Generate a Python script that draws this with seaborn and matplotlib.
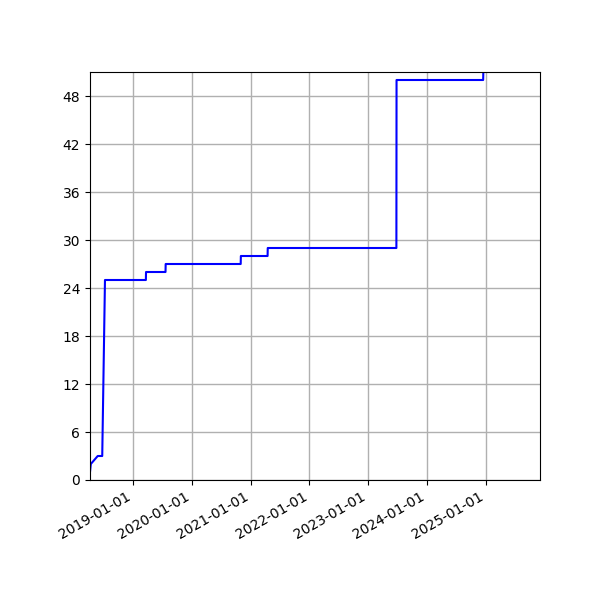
import pandas as pd
import matplotlib
matplotlib.use("Agg")
import matplotlib.pyplot as plt
import matplotlib.dates as mdates
import seaborn as sns

sample_dates = ["2018-04-09", "2018-04-14", "2018-05-27", "2018-06-24",
                "2018-07-11", "2019-03-22", "2019-03-23", "2019-07-22",
                "2019-07-23", "2020-10-31", "2020-11-01", "2021-04-16",
                "2021-04-17", "2023-06-25", "2023-06-26", "2024-12-15",
                "2024-12-16"]
sample_counts = [1, 2, 3, 3, 25, 25, 26, 26, 27, 27, 28, 28, 29, 29, 50, 50, 51]
x_start = "2018-04-09"
x_end = "2025-12-03"
y_ticks = list(range(0, 49, 6))

df = pd.DataFrame({"date": pd.to_datetime(sample_dates), "count": sample_counts})

sns.set_style("ticks")
plt.rcParams['font.family'] = ['DejaVu Sans']

fig, ax = plt.subplots(figsize=(6, 6), dpi=100)
sns.lineplot(data=df, x="date", y="count", ax=ax, color="blue",
             estimator=None, sort=False, linewidth=1.5)
ax.set_xlim(pd.Timestamp(x_start), pd.Timestamp(x_end))
ax.set_ylim(0, max(sample_counts))
ax.set_yticks(y_ticks)
ax.xaxis.set_major_locator(mdates.YearLocator())
ax.xaxis.set_major_formatter(mdates.DateFormatter("%Y-%m-%d"))
ax.grid(True, color="#b0b0b0", linewidth=1)
ax.set_xlabel("")
ax.set_ylabel("")
for s in ax.spines.values():
    s.set_visible(True)
    s.set_color("black")
ax.tick_params(colors="black", labelsize=10)
fig.autofmt_xdate()
fig.subplots_adjust(left=0.15, right=0.9, top=0.88, bottom=0.2)
fig.savefig("out.png", dpi=100)
